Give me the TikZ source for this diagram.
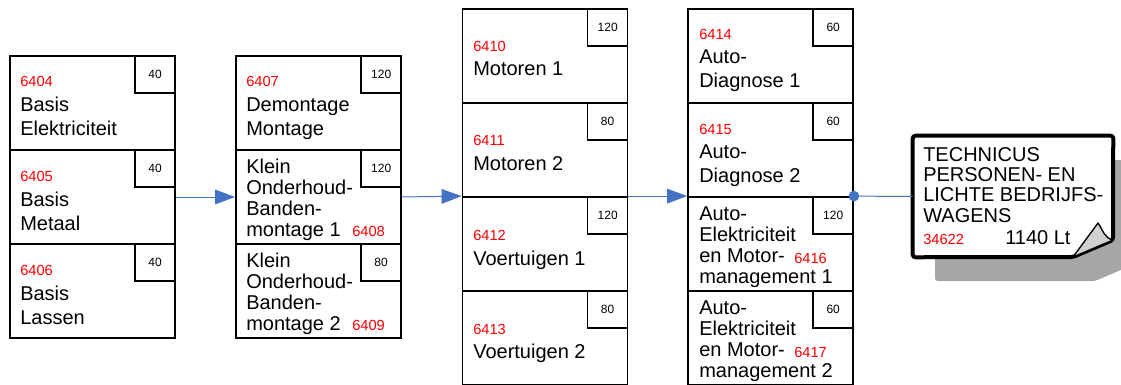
\documentclass[tikz,border=0pt]{standalone}
\usepackage{fontspec}
\setmainfont{Liberation Sans}
\usetikzlibrary{arrows.meta}
\definecolor{mlred}{HTML}{FF0000}
\definecolor{mlblue}{HTML}{4472C4}
\definecolor{mlshadow}{HTML}{A6A6A6}
\definecolor{mlcurl}{HTML}{D0D0D0}

\begin{document}
\begin{tikzpicture}[x=0.75pt, y=-0.75pt,
        mod/.style={
          draw=black, line width=1.35pt, fill=white,
          minimum width=123.75pt, minimum height=70.5pt, inner sep=0pt,
        },
        hrs/.style={
          draw=black, line width=1.1pt, fill=white,
          minimum width=30pt, minimum height=27.75pt, inner sep=0pt,
          anchor=north east, font=\fontsize{9pt}{10pt}\selectfont,
        },
        code/.style={anchor=base west, inner sep=0pt, text=mlred,
          font=\fontsize{11pt}{12pt}\selectfont},
        txt/.style={anchor=base west, inner sep=0pt, align=left,
          font=\fontsize{15pt}{18pt}\selectfont},
        txtb/.style={txt, font=\fontsize{15pt}{15.75pt}\selectfont},
        flow/.style={-{Triangle[length=15pt, width=11pt]}, draw=mlblue, line width=0.75pt},
        link/.style={draw=mlblue, line width=0.75pt},
      ]
      \useasboundingbox (0,0) rectangle (1121,385);

      % column 1
      \node[mod] (m6404) at (92.5, 103) {};
      \node[mod] (m6405) at (92.5, 197) {};
      \node[mod] (m6406) at (92.5, 291) {};
      \node[hrs] (h6404) at (m6404.north east) {40};
      \node[hrs] (h6405) at (m6405.north east) {40};
      \node[hrs] (h6406) at (m6406.north east) {40};
      \node[code] (c6404) at (20, 87)  {6404};
      \node[code] (c6405) at (20, 181) {6405};
      \node[code] (c6406) at (20, 275) {6406};
      \node[txt] (t6404) at (20, 136) {Basis\\Elektriciteit};
      \node[txt] (t6405) at (20, 230) {Basis\\Metaal};
      \node[txt] (t6406) at (20, 324) {Basis\\Lassen};

      % column 2
      \node[mod] (m6407) at (318.5, 103) {};
      \node[mod] (m6408) at (318.5, 197) {};
      \node[mod] (m6409) at (318.5, 291) {};
      \node[hrs] (h6407) at (m6407.north east) {120};
      \node[hrs] (h6408) at (m6408.north east) {120};
      \node[hrs] (h6409) at (m6409.north east) {80};
      \node[code] (c6407) at (246, 87)  {6407};
      \node[code] (c6408) at (352, 236) {6408};
      \node[code] (c6409) at (352, 330) {6409};
      \node[txt]  (t6407) at (246, 136) {Demontage\\Montage};
      \node[txtb] (t6408) at (246, 236) {Klein\\Onderhoud-\\Banden-\\montage 1};
      \node[txtb] (t6409) at (246, 330) {Klein\\Onderhoud-\\Banden-\\montage 2};

      % column 3
      \node[mod] (m6410) at (545, 56)  {};
      \node[mod] (m6411) at (545, 150) {};
      \node[mod] (m6412) at (545, 244) {};
      \node[mod] (m6413) at (545, 338) {};
      \node[hrs] (h6410) at (m6410.north east) {120};
      \node[hrs] (h6411) at (m6411.north east) {80};
      \node[hrs] (h6412) at (m6412.north east) {120};
      \node[hrs] (h6413) at (m6413.north east) {80};
      \node[code] (c6410) at (473, 52)  {6410};
      \node[code] (c6411) at (473, 146) {6411};
      \node[code] (c6412) at (473, 240) {6412};
      \node[code] (c6413) at (473, 334) {6413};
      \node[txt] (t6410) at (473, 76)  {Motoren 1};
      \node[txt] (t6411) at (473, 171) {Motoren 2};
      \node[txt] (t6412) at (473, 265) {Voertuigen 1};
      \node[txt] (t6413) at (473, 358) {Voertuigen 2};

      % column 4
      \node[mod] (m6414) at (770.5, 56)  {};
      \node[mod] (m6415) at (770.5, 150) {};
      \node[mod] (m6416) at (770.5, 244) {};
      \node[mod] (m6417) at (770.5, 338) {};
      \node[hrs] (h6414) at (m6414.north east) {60};
      \node[hrs] (h6415) at (m6415.north east) {60};
      \node[hrs] (h6416) at (m6416.north east) {120};
      \node[hrs] (h6417) at (m6417.north east) {60};
      \node[code] (c6414) at (699, 40)  {6414};
      \node[code] (c6415) at (699, 134) {6415};
      \node[code] (c6416) at (794, 263) {6416};
      \node[code] (c6417) at (794, 357) {6417};
      \node[txt]  (t6414) at (699, 88)  {Auto-\\Diagnose 1};
      \node[txt]  (t6415) at (699, 182) {Auto-\\Diagnose 2};
      \node[txtb] (t6416) at (699, 283) {Auto-\\Elektriciteit\\en Motor-\\management 1};
      \node[txtb] (t6417) at (699, 377) {Auto-\\Elektriciteit\\en Motor-\\management 2};

      % result
      \fill[mlshadow, rounded corners=2pt] (935,160) -- (1135,160) -- (1135,264) -- (1095,281) -- (935,281) -- cycle;
      \node[minimum width=150pt, minimum height=90.75pt, inner sep=0pt] (eind) at (1013, 196.5) {};
      \draw[line width=3pt, fill=white, rounded corners=2pt, line join=round]
        (eind.north west) -- (eind.north east) -- (1113,240) -- (1073,257) -- (eind.south west) -- cycle;
      \draw[line width=1pt, fill=mlcurl, line join=round]
        (1073,257) -- (1098,223) .. controls (1103,230) and (1104,238) .. (1113,240) -- cycle;
      \node[txt, font=\fontsize{15pt}{15.2pt}\selectfont] (teind) at (923, 222) {TECHNICUS\\PERSONEN- EN\\LICHTE BEDRIJFS-\\WAGENS};
      \node[code] (ceind) at (923, 244) {34622};
      \node[txt] (leind) at (1005, 244) {1140 Lt};

      % connectors
      \draw[flow] (m6405) -- (m6408);
      \draw[flow] (m6408.east) -- (m6412.north west);
      \draw[flow] (m6412.north east) -- (m6416.north west);
      \draw[link] (m6416.north east) -- (eind.west);
      \fill[mlblue] (m6416.north east) circle (4pt);
    \end{tikzpicture}
\end{document}
